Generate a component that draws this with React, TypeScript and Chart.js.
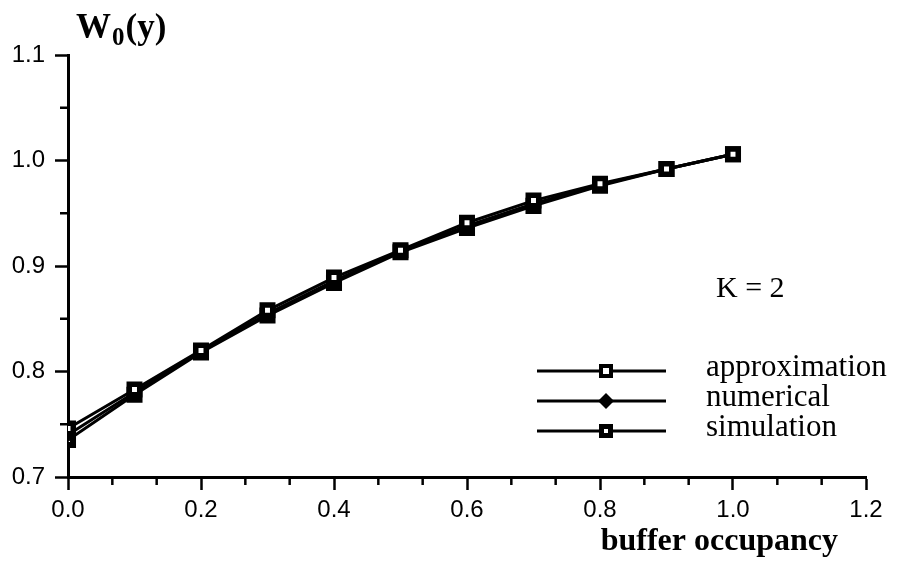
import React, { useEffect, useRef } from "react";
import { Chart, registerables } from "chart.js";

Chart.register(...registerables);

const occupancy = [0, 0.1, 0.2, 0.3, 0.4, 0.5, 0.6, 0.7, 0.8, 0.9, 1.0];
const approximation = [0.746, 0.783, 0.820, 0.858, 0.889, 0.915, 0.941, 0.962, 0.978, 0.992, 1.006];
const numerical = [0.740, 0.780, 0.819, 0.855, 0.886, 0.914, 0.938, 0.959, 0.977, 0.992, 1.006];
const simulation = [0.735, 0.778, 0.818, 0.853, 0.884, 0.913, 0.936, 0.957, 0.976, 0.992, 1.006];

const seriesNames = ["approximation", "numerical", "simulation"];
const xTitle = "buffer occupancy";
const annotation = "K = 2";

const SERIF = "'Liberation Serif', 'DejaVu Serif', serif";
const SANS = "'Liberation Sans', Arial, sans-serif";

function drawSquare(ctx: CanvasRenderingContext2D, x: number, y: number, outer: number, inner: number) {
  ctx.fillStyle = "#000";
  ctx.fillRect(x - outer / 2, y - outer / 2, outer, outer);
  ctx.fillStyle = "#fff";
  ctx.fillRect(x - inner / 2, y - inner / 2, inner, inner);
}

function drawDiamond(ctx: CanvasRenderingContext2D, x: number, y: number, r: number) {
  ctx.fillStyle = "#000";
  ctx.beginPath();
  ctx.moveTo(x, y - r);
  ctx.lineTo(x + r, y);
  ctx.lineTo(x, y + r);
  ctx.lineTo(x - r, y);
  ctx.closePath();
  ctx.fill();
}

const decorPlugin = {
  id: "decor",
  afterDraw(chart: any) {
    const ctx: CanvasRenderingContext2D = chart.ctx;
    const xs = chart.scales.x;
    const ys = chart.scales.y;
    const area = chart.chartArea;
    ctx.save();
    // minor ticks
    ctx.strokeStyle = "#000";
    ctx.lineWidth = 2.5;
    for (let k = 1; k < 18; k++) {
      if (k % 3 === 0) continue;
      const px = xs.getPixelForValue((k * 0.2) / 3);
      ctx.beginPath();
      ctx.moveTo(px, area.bottom);
      ctx.lineTo(px, area.bottom + 8);
      ctx.stroke();
    }
    for (let k = 0; k < 4; k++) {
      const py = ys.getPixelForValue(0.75 + k * 0.1);
      ctx.beginPath();
      ctx.moveTo(area.left, py);
      ctx.lineTo(area.left - 8, py);
      ctx.stroke();
    }
    // y title W0(y)
    ctx.fillStyle = "#000";
    ctx.textBaseline = "alphabetic";
    ctx.textAlign = "left";
    ctx.font = `bold 35px ${SERIF}`;
    const wx = 76;
    const wy = 38;
    ctx.fillText("W", wx, wy);
    const wW = ctx.measureText("W").width;
    ctx.font = `bold 25px ${SERIF}`;
    ctx.fillText("0", wx + wW + 1, wy + 7);
    const w0 = ctx.measureText("0").width;
    ctx.font = `bold 35px ${SERIF}`;
    ctx.fillText("(y)", wx + wW + w0 + 2, wy);
    // x title
    ctx.font = `bold 32px ${SERIF}`;
    ctx.textAlign = "right";
    ctx.fillText(xTitle, 838, 550);
    // K = 2
    ctx.font = `30px ${SERIF}`;
    ctx.textAlign = "left";
    ctx.fillText(annotation, 716, 297);
    // legend
    const rows = [371, 401, 431];
    rows.forEach((ry, i) => {
      ctx.strokeStyle = "#000";
      ctx.lineWidth = 3;
      ctx.beginPath();
      ctx.moveTo(537, ry);
      ctx.lineTo(666, ry);
      ctx.stroke();
      if (i === 0) drawSquare(ctx, 606, ry, 14, 6);
      else if (i === 1) drawDiamond(ctx, 606, ry, 8);
      else drawSquare(ctx, 606, ry, 14, 4);
      ctx.fillStyle = "#000";
      ctx.font = `31px ${SERIF}`;
      ctx.textAlign = "left";
      ctx.textBaseline = "middle";
      ctx.fillText(seriesNames[i], 706, ry - 3);
    });
    ctx.restore();
  },
};

export default function App() {
  const ref = useRef<HTMLCanvasElement>(null);
  useEffect(() => {
    if (!ref.current) return;
    const mk = (vals: number[]) => occupancy.map((x, i) => ({ x, y: vals[i] }));
    const chart = new Chart(ref.current, {
      type: "line",
      data: {
        datasets: [
          {
            label: seriesNames[0],
            data: mk(approximation),
            borderColor: "#000",
            borderWidth: 3,
            pointStyle: "rect",
            pointRadius: 7.4,
            pointBackgroundColor: "#fff",
            pointBorderColor: "#000",
            pointBorderWidth: 5.5,
            tension: 0,
          },
          {
            label: seriesNames[1],
            data: mk(numerical),
            borderColor: "#000",
            borderWidth: 3,
            pointStyle: "rectRot",
            pointRadius: 7,
            pointBackgroundColor: "#000",
            pointBorderColor: "#000",
            pointBorderWidth: 1,
            tension: 0,
          },
          {
            label: seriesNames[2],
            data: mk(simulation),
            borderColor: "#000",
            borderWidth: 3,
            pointStyle: "rect",
            pointRadius: 7.1,
            pointBackgroundColor: "#fff",
            pointBorderColor: "#000",
            pointBorderWidth: 6,
            tension: 0,
          },
        ],
      },
      options: {
        animation: false,
        responsive: false,
        maintainAspectRatio: false,
        layout: { padding: { left: 0, top: 55, right: 31, bottom: 0 } },
        plugins: { legend: { display: false }, tooltip: { enabled: false }, title: { display: false } },
        scales: {
          x: {
            type: "linear",
            min: 0,
            max: 1.2,
            ticks: {
              stepSize: 0.2,
              color: "#000",
              font: { family: SANS, size: 24 },
              padding: 6,
              maxRotation: 0,
              callback: (v: any) => Number(v).toFixed(1),
            },
            grid: { drawOnChartArea: false, drawTicks: true, tickLength: 13, tickWidth: 2.5, tickColor: "#000" },
            border: { display: true, color: "#000", width: 3 },
            afterFit: (s: any) => {
              s.height = 91;
            },
          },
          y: {
            min: 0.7,
            max: 1.1,
            ticks: {
              stepSize: 0.1,
              color: "#000",
              font: { family: SANS, size: 24 },
              padding: 10,
              callback: (v: any) => Number(v).toFixed(1),
            },
            grid: { drawOnChartArea: false, drawTicks: true, tickLength: 13, tickWidth: 2.5, tickColor: "#000" },
            border: { display: true, color: "#000", width: 3 },
            afterFit: (s: any) => {
              s.width = 68;
            },
          },
        },
      },
      plugins: [decorPlugin],
    });
    return () => chart.destroy();
  }, []);
  return (
    <div style={{ position: "absolute", left: 0, top: 0, width: 897, height: 568, background: "#fff" }}>
      <canvas ref={ref} width={897} height={568} style={{ width: 897, height: 568 }} />
    </div>
  );
}
